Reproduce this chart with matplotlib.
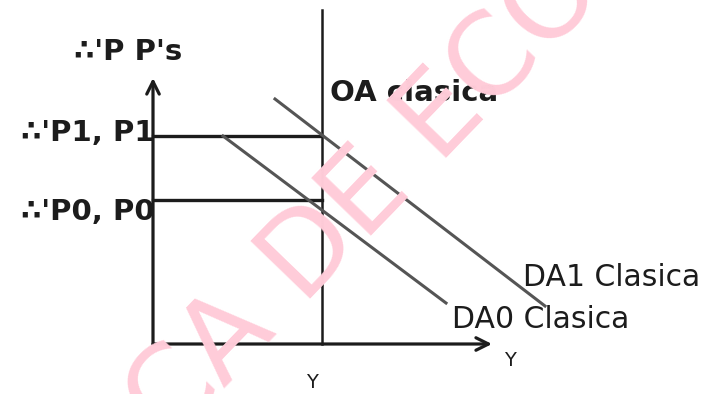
import numpy as np
from matplotlib import pyplot as plt

# values (output on x, price level on y, arbitrary units)
Y_FULL = 16.9          # classical aggregate supply (vertical)
P0 = 14.4
P1 = 20.8
OA_TOP = 33.4
Y_AXIS_TOP = 26.6
X_AXIS_END = 33.9

# aggregate demand curves, given by their two end points
da0_y = [7.0, 29.3]
da0_p = [20.8, 4.1]
da1_y = [12.2, 39.2]
da1_p = [24.5, 3.8]

price_labels = ["\u2234'P P's", "\u2234'P1, P1", "\u2234'P0, P0"]
curve_labels = ["OA clasica", "DA1 Clasica", "DA0 Clasica"]
WATERMARK = "CA DE ECONOMIA"

INK = "#1c1c1c"
CURVE = "#555555"
PINK = "#ffccd9"


def main():
    fig = plt.figure(figsize=(7.04, 3.94), dpi=100)
    ax = fig.add_axes([0, 0, 1, 1])
    ax.set_xlim(-15.3, 55.1)
    ax.set_ylim(-5.0, 34.4)
    ax.axis("off")

    # watermark behind everything
    fig.text(0.239, -0.132, WATERMARK, rotation=46, rotation_mode="anchor",
             ha="left", va="baseline", fontsize=82, color=PINK, zorder=0)

    # axes with open arrow heads
    ax.annotate("", xy=(0, Y_AXIS_TOP), xytext=(0, 0),
                arrowprops=dict(arrowstyle="->,head_length=0.9,head_width=0.45",
                                lw=2.3, color=INK, shrinkA=0, shrinkB=0))
    ax.annotate("", xy=(X_AXIS_END, 0), xytext=(0, 0),
                arrowprops=dict(arrowstyle="->,head_length=0.9,head_width=0.45",
                                lw=2.3, color=INK, shrinkA=0, shrinkB=0))

    # classical supply
    ax.plot([Y_FULL, Y_FULL], [0, OA_TOP], color=INK, lw=1.8)

    # price levels
    ax.plot([0, Y_FULL], [P1, P1], color=INK, lw=2.4)
    ax.plot([0, Y_FULL], [P0, P0], color=INK, lw=2.4)

    # demand curves
    ax.plot(da1_y, da1_p, color=CURVE, lw=2.2)
    ax.plot(da0_y, da0_p, color=CURVE, lw=2.2)

    ax.text(-2.5, 29.2, price_labels[0], ha="center", va="center",
            fontsize=21, fontweight="bold", color=INK)
    ax.text(0.2, P1 + 0.3, price_labels[1], ha="right", va="center",
            fontsize=21, fontweight="bold", color=INK)
    ax.text(0.2, P0 - 1.2, price_labels[2], ha="right", va="center",
            fontsize=21, fontweight="bold", color=INK)

    ax.text(Y_FULL + 0.8, 25.1, curve_labels[0], ha="left", va="center",
            fontsize=21, fontweight="bold", color=INK)
    ax.text(37.0, 6.6, curve_labels[1], ha="left", va="center", fontsize=21.5, color=INK)
    ax.text(29.9, 2.4, curve_labels[2], ha="left", va="center", fontsize=21.5, color=INK)

    ax.text(Y_FULL - 1.0, -3.8, "Y", ha="center", va="center", fontsize=14, color=INK)
    ax.text(35.7, -1.6, "Y", ha="center", va="center", fontsize=14, color=INK)

    fig.savefig("out.png", dpi=100)


main()
